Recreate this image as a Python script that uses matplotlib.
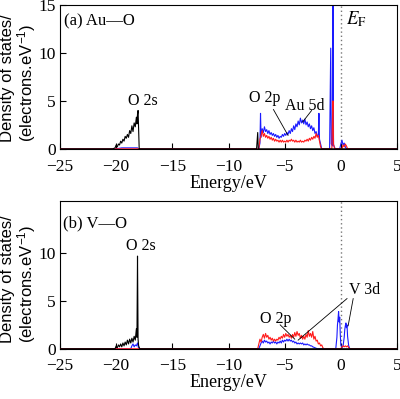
import matplotlib
matplotlib.use("Agg")
import matplotlib.pyplot as plt

plt.rcParams['font.family'] = ['Liberation Serif', 'DejaVu Serif']
plt.rcParams['mathtext.fontset'] = 'stix'
plt.rcParams['font.size'] = 13

# ---------------- Panel (a) Au-O ----------------
a_black = [(-25, 0), (-20.3, 0), (-20.1, 0.1), (-20.0, 0.4), (-19.9, 0.2), (-19.8, 0.5), (-19.7, 0.4),
           (-19.6, 0.8), (-19.5, 0.6), (-19.4, 1.0), (-19.3, 0.8), (-19.2, 1.3), (-19.1, 1.1),
           (-19.0, 1.5), (-18.9, 1.2), (-18.8, 1.9), (-18.7, 1.6), (-18.6, 2.4), (-18.5, 1.8),
           (-18.4, 2.7), (-18.3, 2.3), (-18.2, 3.3), (-18.15, 2.6), (-18.1, 3.6), (-18.05, 4.0),
           (-18.0, 2.0), (-17.95, 0), (-7.5, 0), (-7.4, 1.7), (-7.35, 0), (5, 0)]

a_blue = [(-25, 0), (-20.0, 0), (-19.5, 0.1), (-18.1, 0.1), (-18.0, 0), (-7.3, 0), (-7.2, 0.6), (-7.15, 3.7),
          (-7.1, 1.2), (-7.0, 2.1), (-6.9, 1.7), (-6.8, 2.3), (-6.7, 1.8), (-6.6, 2.0), (-6.5, 1.6),
          (-6.4, 1.9), (-6.3, 1.5), (-6.2, 1.7), (-6.1, 1.4), (-6.0, 1.6), (-5.9, 1.3), (-5.8, 1.5),
          (-5.7, 1.2), (-5.6, 1.4), (-5.5, 1.1), (-5.4, 1.3), (-5.3, 1.2), (-5.2, 1.5), (-5.1, 1.3),
          (-5.0, 1.6), (-4.9, 1.4), (-4.8, 1.7), (-4.7, 1.5), (-4.6, 1.9), (-4.5, 1.6), (-4.4, 2.1),
          (-4.3, 1.8), (-4.2, 2.4), (-4.1, 2.0), (-4.0, 2.6), (-3.9, 2.3), (-3.8, 2.9), (-3.7, 2.5),
          (-3.6, 3.2), (-3.5, 2.7), (-3.4, 3.0), (-3.3, 2.6), (-3.2, 3.1), (-3.1, 2.5), (-3.0, 2.8),
          (-2.9, 2.3), (-2.8, 2.6), (-2.7, 2.1), (-2.6, 2.4), (-2.5, 1.9), (-2.4, 2.2), (-2.3, 1.6),
          (-2.2, 1.8), (-2.1, 1.3), (-2.0, 1.5), (-1.95, 3.7), (-1.9, 1.0), (-1.8, 0.5), (-1.7, 0),
          (-1.0, 0), (-0.9, 10.5), (-0.85, 0.5), (-0.75, 0.3), (-0.7, 16), (-0.65, 0.4), (-0.5, 0),
          (-0.1, 0), (0.0, 0.5), (0.1, 0.9), (0.2, 0.4), (0.3, 0.6), (0.4, 0.2), (0.5, 0), (5, 0)]

a_red = [(-25, 0), (-7.3, 0), (-7.2, 1.0), (-7.1, 1.4), (-7.0, 1.9), (-6.9, 1.3), (-6.8, 1.6), (-6.7, 1.2),
         (-6.6, 1.4), (-6.5, 1.1), (-6.4, 1.3), (-6.3, 1.0), (-6.2, 1.2), (-6.1, 0.9), (-6.0, 1.1),
         (-5.9, 0.8), (-5.8, 1.0), (-5.7, 0.8), (-5.6, 0.9), (-5.5, 0.7), (-5.4, 0.9), (-5.3, 0.7),
         (-5.2, 0.9), (-5.1, 0.7), (-5.0, 0.8), (-4.9, 0.7), (-4.8, 0.9), (-4.7, 0.7), (-4.6, 0.9),
         (-4.5, 0.8), (-4.4, 1.0), (-4.3, 0.8), (-4.2, 0.9), (-4.1, 0.7), (-4.0, 0.9), (-3.9, 0.7),
         (-3.8, 0.8), (-3.7, 0.7), (-3.6, 0.9), (-3.5, 0.7), (-3.4, 0.8), (-3.3, 0.7), (-3.2, 0.9),
         (-3.1, 0.8), (-3.0, 1.0), (-2.9, 0.8), (-2.8, 1.1), (-2.7, 0.9), (-2.6, 1.2), (-2.5, 1.0),
         (-2.4, 1.3), (-2.3, 1.1), (-2.2, 1.6), (-2.1, 1.2), (-2.0, 1.4), (-1.9, 0.8), (-1.8, 0.2),
         (-1.7, 0), (-0.8, 0), (-0.75, 3.0), (-0.7, 5.0), (-0.65, 0.5), (-0.55, 0), (0.1, 0),
         (0.2, 0.4), (0.3, 0.2), (0.4, 0.5), (0.5, 0.3), (0.6, 0), (5, 0)]

# ---------------- Panel (b) V-O ----------------
b_black = [(-25, 0), (-20.1, 0), (-20.0, 0.3), (-19.9, 0.1), (-19.8, 0.4), (-19.7, 0.2), (-19.6, 0.5),
           (-19.5, 0.2), (-19.4, 0.6), (-19.3, 0.3), (-19.2, 0.7), (-19.1, 0.4), (-19.0, 0.9),
           (-18.9, 0.5), (-18.8, 1.0), (-18.7, 0.6), (-18.6, 1.1), (-18.5, 0.7), (-18.4, 1.3),
           (-18.3, 0.9), (-18.2, 2.1), (-18.15, 1.2), (-18.1, 9.7), (-18.05, 1.0), (-18.0, 0.3),
           (-17.9, 0), (5, 0)]

b_blue = [(-25, 0), (-18.7, 0), (-18.6, 0.3), (-18.5, 0.5), (-18.4, 0.2), (-18.3, 0.4), (-18.2, 0.3),
          (-18.1, 0.6), (-18.0, 0), (-7.3, 0), (-7.2, 0.3), (-7.1, 0.6), (-7.0, 0.8), (-6.9, 0.6),
          (-6.8, 0.9), (-6.7, 0.7), (-6.6, 0.8), (-6.5, 0.6), (-6.4, 0.7), (-6.3, 0.5), (-6.2, 0.7),
          (-6.1, 0.6), (-6.0, 0.8), (-5.9, 0.6), (-5.8, 0.7), (-5.7, 0.5), (-5.6, 0.7), (-5.5, 0.6),
          (-5.4, 0.8), (-5.3, 0.6), (-5.2, 0.9), (-5.1, 0.7), (-5.0, 0.9), (-4.9, 0.8), (-4.8, 1.0),
          (-4.7, 0.8), (-4.6, 1.0), (-4.5, 0.8), (-4.4, 0.9), (-4.3, 0.7), (-4.2, 0.8), (-4.1, 0.6),
          (-4.0, 0.7), (-3.9, 0.5), (-3.8, 0.6), (-3.7, 0.5), (-3.6, 0.6), (-3.5, 0.5), (-3.4, 0.6),
          (-3.3, 0.4), (-3.2, 0.5), (-3.1, 0.4), (-3.0, 0.5), (-2.9, 0.4), (-2.8, 0.4), (-2.7, 0.3),
          (-2.6, 0.3), (-2.5, 0.2), (-2.3, 0.1), (-2.1, 0), (-0.45, 0), (-0.35, 1.2), (-0.3, 2.5),
          (-0.25, 3.1), (-0.2, 3.9), (-0.15, 2.8), (-0.1, 3.3), (-0.05, 1.5), (0.0, 0.4), (0.1, 0.1),
          (0.2, 0.3), (0.3, 1.2), (0.35, 2.0), (0.4, 2.4), (0.45, 2.7), (0.5, 2.2), (0.55, 2.5),
          (0.6, 1.3), (0.7, 0.3), (0.8, 0), (5, 0)]

b_red = [(-25, 0), (-7.4, 0), (-7.3, 0.5), (-7.2, 1.0), (-7.1, 0.7), (-7.0, 1.2), (-6.9, 1.5), (-6.8, 1.1),
         (-6.7, 1.6), (-6.6, 1.2), (-6.5, 1.4), (-6.4, 1.0), (-6.3, 1.2), (-6.2, 0.9), (-6.1, 1.1),
         (-6.0, 0.8), (-5.9, 1.0), (-5.8, 0.8), (-5.7, 1.0), (-5.6, 0.9), (-5.5, 1.2), (-5.4, 1.0),
         (-5.3, 1.3), (-5.2, 1.1), (-5.1, 1.5), (-5.0, 1.2), (-4.9, 1.6), (-4.8, 1.3), (-4.7, 1.5),
         (-4.6, 1.2), (-4.5, 1.4), (-4.4, 1.1), (-4.3, 1.5), (-4.2, 1.2), (-4.1, 1.7), (-4.0, 1.3),
         (-3.9, 1.8), (-3.8, 1.4), (-3.7, 1.6), (-3.6, 1.1), (-3.5, 1.4), (-3.4, 1.0), (-3.3, 1.3),
         (-3.2, 1.0), (-3.1, 1.5), (-3.0, 1.2), (-2.9, 1.9), (-2.8, 1.3), (-2.7, 1.6), (-2.6, 1.2),
         (-2.5, 1.8), (-2.4, 1.0), (-2.3, 1.3), (-2.2, 0.8), (-2.1, 0.9), (-2.0, 0.5), (-1.9, 0.6),
         (-1.8, 0.3), (-1.7, 0.4), (-1.6, 0.1), (-1.5, 0), (0.0, 0), (0.1, 0.2), (0.2, 0.3),
         (0.3, 0.2), (0.4, 0.3), (0.5, 0.2), (0.6, 0.3), (0.7, 0.1), (0.8, 0), (5, 0)]

x_ticks = [-25, -20, -15, -10, -5, 0, 5]
x_ticklabels = ['\u221225', '\u221220', '\u221215', '\u221210', '\u22125', '0', '5']
a_yticks = [0, 5, 10, 15]
b_yticks = [0, 5, 10]
ylabel = "Density of states/\n(electrons.eV$\\mathregular{^{-1}}$)"


def xy(pairs):
    return [p[0] for p in pairs], [p[1] for p in pairs]


fig = plt.figure(figsize=(4.0, 3.99), dpi=100)
ax_a = fig.add_axes([0.15, 0.627, 0.8425, 0.3605])
ax_b = fig.add_axes([0.15, 0.126, 0.8425, 0.371])

for ax, blue, red, black, ylim, yt, ylab_y in [(ax_a, a_blue, a_red, a_black, 15, a_yticks, 0.805),
                                              (ax_b, b_blue, b_red, b_black, 15.5, b_yticks, 0.30)]:
    ax.plot(*xy(blue), color='#1a1aff', lw=0.8, zorder=2)
    ax.plot(*xy(red), color='#ff1a1a', lw=0.8, zorder=3)
    ax.plot(*xy(black), color='black', lw=0.8, zorder=4)
    ax.axvline(0, color='#777777', ls=(0, (1, 2)), lw=1.0, zorder=1)
    ax.set_xlim(-25, 5)
    ax.set_ylim(0, ylim)
    ax.set_xticks(x_ticks)
    ax.set_xticklabels(x_ticklabels)
    ax.set_yticks(yt)
    ax.tick_params(direction='in', length=4, width=0.8, labelsize=12.5)
    ax.tick_params(axis='x', pad=7)
    ax.tick_params(axis='y', pad=3)
    ax.set_xlabel('Energy/eV', fontsize=13, labelpad=0)
    for s in ax.spines.values():
        s.set_linewidth(0.8)
    fig.text(0.0, ylab_y, ylabel, rotation=90, ha='left', va='center', fontsize=12,
             family=['Liberation Sans', 'DejaVu Sans'], linespacing=1.0)

# Panel (a) annotations
ax_a.text(-24.6, 13.3, '(a) Au\u2014O', fontsize=12, va='center', ha='left')
ax_a.text(0.5, 13.5, '$E_{\\mathrm{F}}$', fontsize=13.5, va='center', ha='left')
ax_a.text(-17.6, 5.0, 'O 2s', fontsize=11.5, va='center', ha='center')
ax_a.text(-6.8, 5.3, 'O 2p', fontsize=11.5, va='center', ha='center')
ax_a.text(-3.2, 4.5, 'Au 5d', fontsize=11.5, va='center', ha='center')
ax_a.plot([-6.0, -4.7], [4.1, 1.4], color='black', lw=0.6, zorder=5)
ax_a.plot([-2.6, -3.4], [4.0, 2.8], color='black', lw=0.6, zorder=5)

# Panel (b) annotations
ax_b.text(-24.7, 13.1, '(b) V\u2014O', fontsize=12, va='center', ha='left')
ax_b.text(-17.8, 10.8, 'O 2s', fontsize=11.5, va='center', ha='center')
ax_b.text(-5.8, 3.1, 'O 2p', fontsize=11.5, va='center', ha='center')
ax_b.text(2.1, 6.1, 'V 3d', fontsize=11.5, va='center', ha='center')
ax_b.plot([-5.4, -4.1], [2.5, 1.0], color='black', lw=0.6, zorder=5)
ax_b.plot([0.55, -3.8], [5.25, 0.9], color='black', lw=0.6, zorder=5)
ax_b.plot([1.1, 0.65], [5.25, 2.4], color='black', lw=0.6, zorder=5)

fig.savefig('out.png', dpi=100)
